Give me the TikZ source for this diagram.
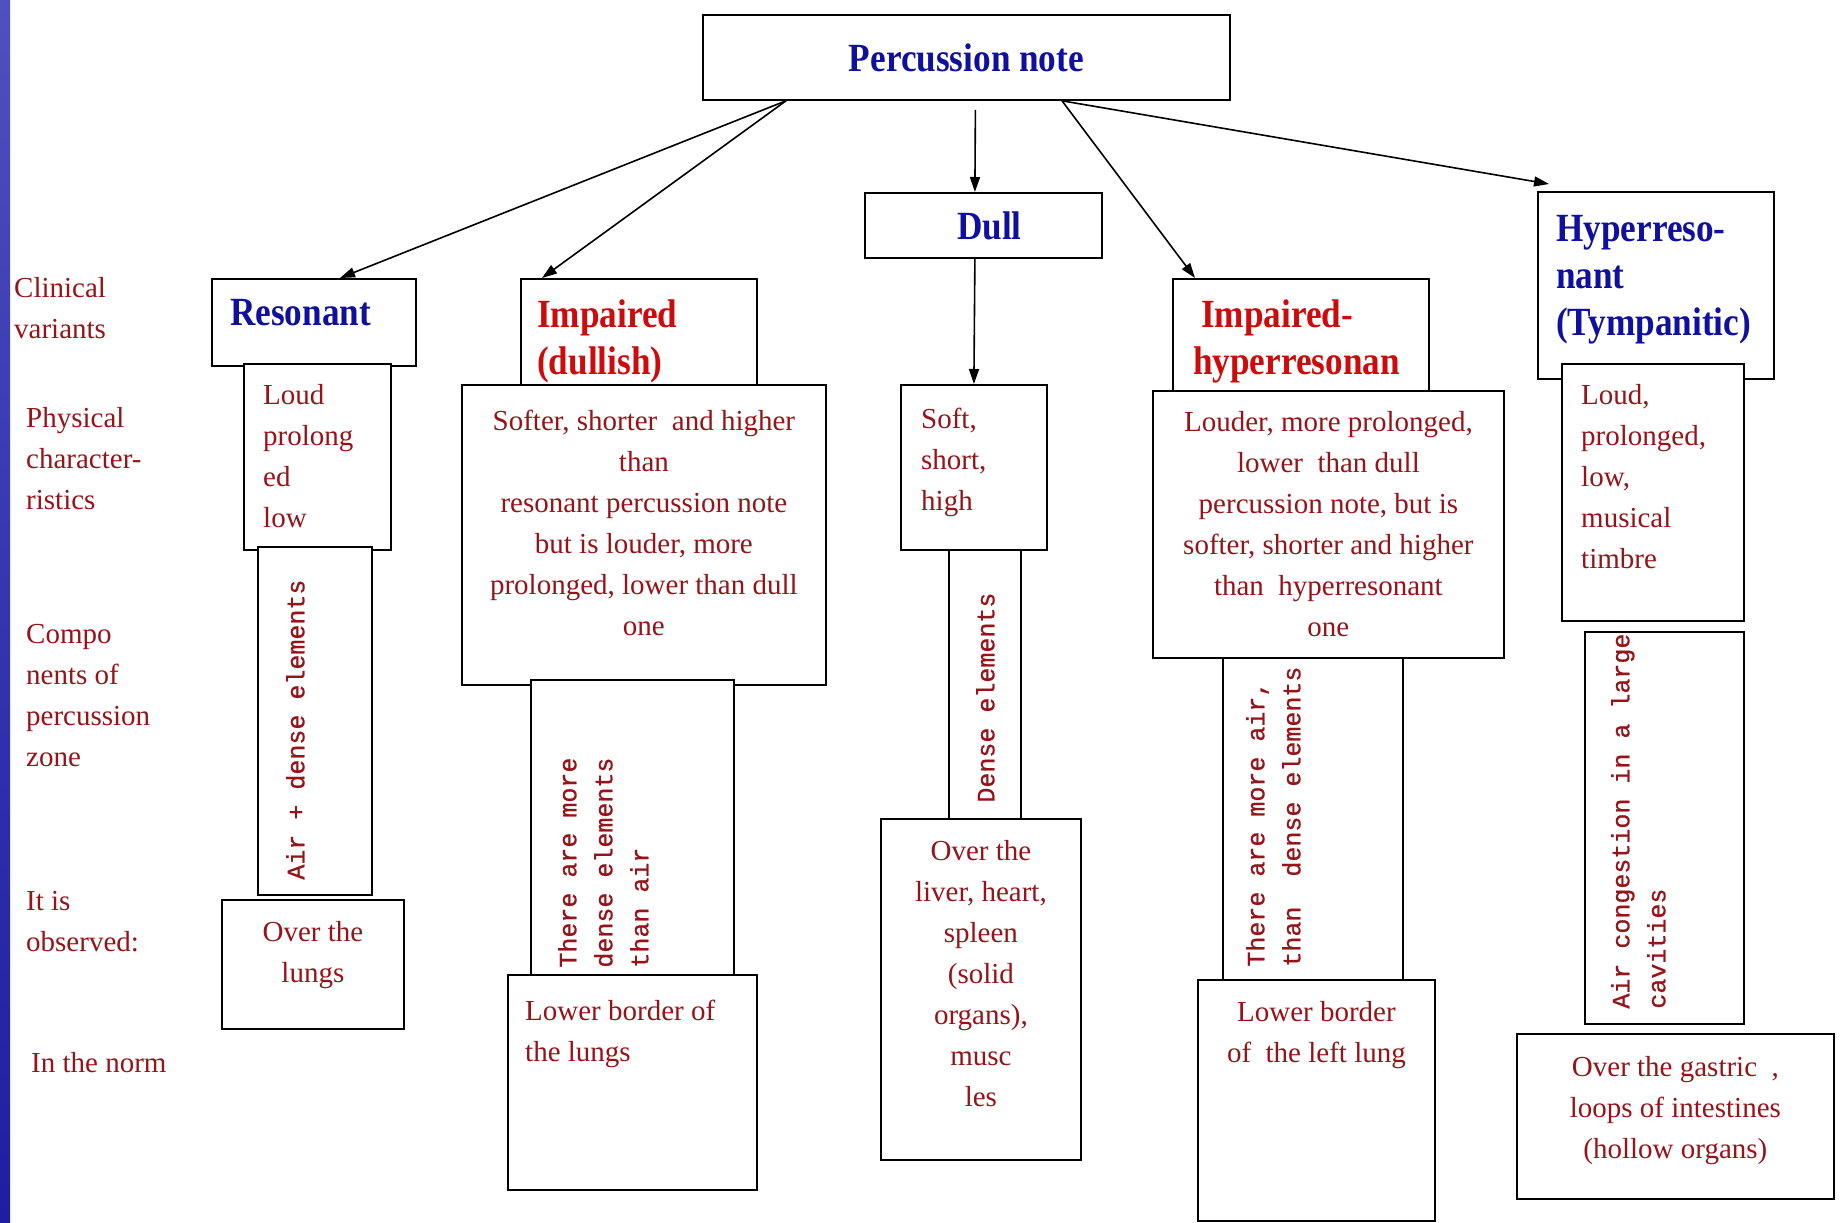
\documentclass[tikz,border=0pt]{standalone}
\usepackage{fontspec}
\setmainfont{Liberation Serif}
\newfontfamily\headfont[FakeStretch=0.88]{Liberation Serif}
\newfontfamily\cmpfont[FakeBold=0.8]{Liberation Mono}
\usepackage{xcolor}
\usetikzlibrary{arrows.meta, positioning}

\definecolor{hblue}{RGB}{16,16,160}
\definecolor{hred}{RGB}{204,12,12}
\definecolor{tred}{RGB}{150,20,25}
\definecolor{barA}{RGB}{80,80,190}
\definecolor{barB}{RGB}{190,190,230}
\definecolor{barC}{RGB}{60,60,180}
\definecolor{barD}{RGB}{120,120,205}
\definecolor{barE}{RGB}{30,30,160}

\begin{document}
\begin{tikzpicture}[
    x=1pt, y=-1pt,
    cell/.style={
      rectangle, draw=black, line width=1.8pt,
      fill=white, anchor=north west, inner sep=0pt
    },
    head/.style={
      font=\headfont\bfseries\fontsize{40}{47}\selectfont,
      align=left, inner sep=0pt
    },
    bhead/.style={head, text=hblue},
    rhead/.style={head, text=hred},
    body/.style={font=\fontsize{29}{41}\selectfont, text=tred, inner sep=0pt},
    side/.style={body, align=left, anchor=north west},
    vtext/.style={
      font=\cmpfont\fontsize{25}{36}\selectfont, text=tred,
      rotate=90, align=left, anchor=north west, inner sep=0pt
    },
    arr/.style={-{Triangle[length=15pt, width=10pt]}, line width=1.6pt}
  ]
    \useasboundingbox (0,0) rectangle (1840,1223);
    \shade[top color=barA, middle color=barB, bottom color=barC] (0,0) rectangle (10,430);
    \shade[top color=barC, middle color=barD, bottom color=barE] (0,430) rectangle (10,1223);

    % clinical variants
    \node[cell, bhead, minimum width=527pt, minimum height=85pt] (note) at (702,14) {Percussion note};
    \node[cell, bhead, minimum width=237pt, minimum height=65pt] (dull) at (864,192) {\hspace*{12pt}Dull};
    \node[cell, minimum width=204pt, minimum height=87pt] (reso) at (211,278) {};
    \node[cell, minimum width=236pt, minimum height=106pt] (imp) at (520,278) {};
    \node[cell, minimum width=256pt, minimum height=112pt] (imphyp) at (1172,278) {};
    \node[cell, minimum width=236pt, minimum height=187pt] (hyper) at (1537,191) {};

    \node[bhead, below right=21pt and 19pt of reso.north west] (resot) {Resonant};
    \node[rhead, below right=22pt and 17pt of imp.north west] (impt) {Impaired\\(dullish)};
    \node[rhead, below right=22pt and 21pt of imphyp.north west] (imphypt)
      {\hspace*{8pt}Impaired-\\hyperresonan};
    \node[bhead, below right=24pt and 19pt of hyper.north west] (hypert)
      {Hyperreso-\\nant\\(Tympanitic)};

    % physical characteristics
    \node[cell, minimum width=147pt, minimum height=186pt] (phys1) at (243,363) {};
    \node[cell, minimum width=364pt, minimum height=300pt] (phys2) at (461,384) {};
    \node[cell, minimum width=146pt, minimum height=165pt] (phys3) at (900,384) {};
    \node[cell, minimum width=351pt, minimum height=267pt] (phys4) at (1152,390) {};
    \node[cell, minimum width=182pt, minimum height=257pt] (phys5) at (1561,363) {};

    \node[body, align=left, below right=21.5pt and 20pt of phys1.north west] (phys1t)
      {Loud\\prolong\\ed\\low};
    \node[body, align=center, below=25.5pt of phys2.north] (phys2t)
      {Softer, shorter\ \ and higher\\than\\resonant percussion note\\but is louder, more\\prolonged, lower than dull\\one};
    \node[body, align=left, below right=23.5pt and 21pt of phys3.north west] (phys3t)
      {Soft,\\short,\\high};
    \node[body, align=center, below=21.5pt of phys4.north] (phys4t)
      {Louder, more prolonged,\\lower\ \ than dull\\percussion note, but is\\softer, shorter and higher\\than\ \ hyperresonant\\one};
    \node[body, align=left, below right=21.5pt and 20pt of phys5.north west] (phys5t)
      {Loud,\\prolonged,\\low,\\musical\\timbre};

    % components of percussion zone
    \node[cell, minimum width=114pt, minimum height=348pt] (cmp1) at (257,546) {};
    \node[cell, minimum width=203pt, minimum height=295pt] (cmp2) at (530,679) {};
    \node[cell, minimum width=72pt, minimum height=269pt] (cmp3) at (948,549) {};
    \node[cell, minimum width=180pt, minimum height=322pt] (cmp4) at (1222,657) {};
    \node[cell, minimum width=159pt, minimum height=392pt] (cmp5) at (1584,631) {};

    \node[vtext] (cmp1t) at ([shift={(29,-16)}]cmp1.south west) {Air + dense elements};
    \node[vtext] (cmp2t) at ([shift={(28,-8)}]cmp2.south west) {There are more\\dense elements\\than air};
    \node[vtext] (cmp3t) at ([shift={(28,-17)}]cmp3.south west) {Dense elements};
    \node[vtext] (cmp4t) at ([shift={(24,-14)}]cmp4.south west) {There are more air,\\than\ \ dense elements};
    \node[vtext] (cmp5t) at ([shift={(27,-16)}]cmp5.south west) {Air congestion in a large\\cavities};

    % it is observed
    \node[cell, minimum width=182pt, minimum height=129pt] (obs1) at (221,899) {};
    \node[cell, minimum width=249pt, minimum height=215pt] (obs2) at (507,974) {};
    \node[cell, minimum width=200pt, minimum height=341pt] (obs3) at (880,818) {};
    \node[cell, minimum width=237pt, minimum height=241pt] (obs4) at (1197,979) {};
    \node[cell, minimum width=317pt, minimum height=165pt] (obs5) at (1516,1033) {};

    \node[body, align=center, below=22.5pt of obs1.north] (obs1t) {Over the\\lungs};
    \node[body, align=left, below right=25.5pt and 18pt of obs2.north west] (obs2t)
      {Lower border of\\the lungs};
    \node[body, align=center, below=22.5pt of obs3.north] (obs3t)
      {Over the\\liver, heart,\\spleen\\(solid\\organs),\\musc\\les};
    \node[body, align=center, below=22.5pt of obs4.north] (obs4t)
      {Lower border\\of\ \ the left lung};
    \node[body, align=center, below=23.5pt of obs5.north] (obs5t)
      {Over the gastric\ \ ,\\loops of intestines\\(hollow organs)};

    % row labels
    \node[side] (clin) at (14,277) {Clinical\\variants};
    \node[side] (physlbl) at (26,407) {Physical\\character-\\ristics};
    \node[side] (complbl) at (26,624) {Compo\\nents of\\percussion\\zone};
    \node[side] (obslbl) at (26,891) {It is\\observed:};
    \node[side] (normlbl) at (31,1052) {In the norm};

    \draw[arr] ([xshift=84pt]note.south west) -- ([xshift=129pt]reso.north west);
    \draw[arr] ([xshift=84pt]note.south west) -- ([xshift=22pt]imp.north west);
    \draw[arr] ([xshift=9pt, yshift=-9pt]note.south) -- ([xshift=-8.5pt]dull.north);
    \draw[arr] ([xshift=360pt]note.south west) -- ([xshift=23pt]imphyp.north west);
    \draw[arr] ([xshift=360pt]note.south west) -- ([xshift=12pt, yshift=7pt]hyper.north west);
    \draw[arr] ([xshift=-8.5pt]dull.south) -- (phys3.north);
  \end{tikzpicture}
\end{document}
